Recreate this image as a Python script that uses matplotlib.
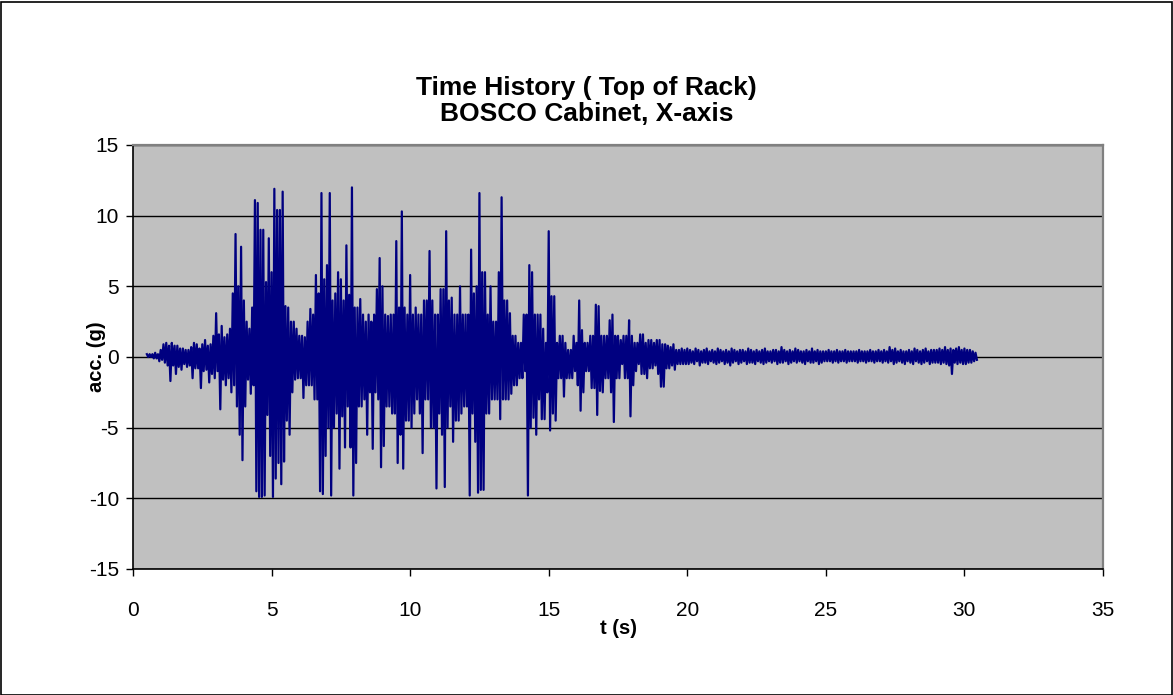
import numpy as np
import matplotlib
matplotlib.use("Agg")
import matplotlib.pyplot as plt
from matplotlib.patches import Rectangle

plt.rcParams['font.family'] = ['Liberation Sans', 'DejaVu Sans']

# Record read from the picture as the upper / lower extreme of the trace
# in consecutive 0.1 s windows starting at t = 0.5 s.
t_start = 0.5
t_win = 0.1

# windows 0.5 - 5.4 s
max_a = [0.2, 0.2, 0.2, 0.3, 0.2, 0.5, 0.9, 1.0, 0.8, 1.0,
         0.8, 0.8, 0.6, 0.6, 0.5, 0.5, 0.7, 1.0, 0.9, 0.6,
         0.9, 1.2, 0.8, 0.9, 1.5, 3.1, 1.6, 2.2, 1.4, 1.6,
         2.0, 4.5, 8.7, 5.0, 7.8, 4.0, 2.5, 2.0, 3.5, 11.1,
         10.9, 9.0, 9.0, 5.3, 8.4, 6.0, 11.9, 10.4, 10.4, 11.7]
min_a = [0.0, 0.0, -0.1, -0.1, -0.3, -0.2, -0.4, -0.6, -1.7, -0.6,
         -1.2, -0.7, -0.9, -0.5, -0.7, -0.6, -1.5, -0.8, -0.8, -2.2,
         -1.0, -0.9, -1.8, -1.2, -1.5, -1.0, -3.7, -1.6, -2.0, -1.5,
         -2.5, -2.0, -3.5, -5.5, -7.3, -3.5, -1.6, -2.6, -2.0, -9.5,
         -9.9, -9.9, -9.8, -4.1, -7.0, -9.9, -8.6, -7.5, -9.0, -7.4]
# windows 5.5 - 10.4 s
max_b = [3.6, 3.5, 2.5, 2.5, 2.0, 1.5, 1.5, 1.4, 2.5, 3.4,
         3.0, 5.8, 4.5, 11.6, 5.5, 6.5, 11.6, 4.0, 4.5, 6.0,
         5.5, 4.0, 7.9, 4.4, 12.0, 3.5, 3.5, 4.1, 3.0, 2.5,
         3.0, 2.5, 3.0, 4.8, 7.0, 5.0, 3.0, 2.9, 3.0, 3.0,
         8.2, 3.5, 10.3, 3.5, 3.0, 5.8, 3.0, 3.5, 3.0, 3.0]
min_b = [-4.5, -5.5, -2.5, -1.6, -1.5, -1.5, -2.9, -2.0, -2.0, -2.0,
         -3.0, -3.0, -9.5, -9.7, -7.0, -5.0, -9.8, -5.0, -4.0, -7.9,
         -4.2, -6.4, -3.5, -6.4, -9.8, -7.5, -3.5, -3.5, -3.0, -5.5,
         -2.5, -6.5, -2.5, -3.0, -7.8, -6.3, -3.5, -3.5, -4.0, -4.0,
         -7.5, -5.5, -7.9, -4.5, -4.5, -5.0, -4.0, -3.0, -4.0, -6.8]
# windows 10.5 - 15.4 s
max_c = [4.0, 4.0, 7.5, 4.0, 3.0, 3.0, 4.8, 4.8, 8.9, 4.0,
         4.2, 3.0, 3.0, 5.0, 3.0, 3.0, 3.0, 7.6, 4.5, 5.0,
         11.6, 6.0, 6.0, 3.0, 5.0, 2.5, 2.5, 6.0, 11.3, 4.0,
         4.0, 3.1, 1.5, 1.5, 1.0, 1.0, 3.0, 3.0, 6.5, 6.0,
         3.0, 3.0, 3.0, 2.0, 1.0, 8.9, 4.3, 4.3, 1.0, 1.5]
min_c = [-3.0, -3.0, -5.0, -5.0, -9.3, -4.0, -5.5, -9.2, -5.0, -3.5,
         -6.0, -4.5, -4.5, -4.0, -3.5, -3.5, -9.8, -4.0, -6.0, -9.6,
         -9.4, -9.4, -4.0, -4.0, -3.0, -3.0, -3.0, -4.4, -3.0, -3.0,
         -3.0, -2.6, -2.0, -2.0, -1.5, -1.5, -1.0, -9.8, -5.0, -4.3,
         -5.5, -3.0, -4.4, -4.4, -2.5, -5.2, -4.0, -4.5, -1.5, -1.5]
# windows 15.5 - 19.9 s
max_d = [1.5, 1.0, 0.5, 0.5, 1.5, 1.0, 4.0, 1.9, 1.0, 1.0,
         1.5, 1.5, 3.7, 3.6, 1.5, 1.5, 1.5, 2.6, 3.0, 1.5,
         1.5, 1.2, 1.5, 1.5, 2.6, 1.5, 1.0, 1.0, 1.6, 1.6,
         1.0, 1.2, 1.2, 1.0, 1.2, 1.2, 0.9, 0.9, 0.8, 0.7,
         0.9, 0.5, 0.5, 0.6, 0.5]
min_d = [-2.8, -1.5, -1.5, -1.5, -1.0, -2.0, -3.8, -2.5, -1.0, -1.0,
         -2.2, -2.2, -4.1, -2.4, -2.5, -1.5, -1.5, -2.5, -4.6, -1.5,
         -1.5, -0.5, -1.5, -1.5, -4.2, -2.0, -1.0, -0.5, -1.2, -1.2,
         -1.5, -0.8, -0.8, -0.6, -1.2, -2.1, -2.1, -0.8, -0.8, -0.6,
         -0.9, -0.5, -0.5, -0.5, -0.5]
# windows 20.0 - 30.4 s
max_e = [0.6, 0.5, 0.4, 0.6, 0.5, 0.4, 0.5, 0.6, 0.4, 0.5,
         0.4, 0.6, 0.5, 0.4, 0.5, 0.4, 0.6, 0.5, 0.4, 0.5,
         0.5, 0.4, 0.6, 0.5, 0.4, 0.5, 0.4, 0.5, 0.6, 0.4,
         0.4, 0.5, 0.5, 0.4, 0.7, 0.5, 0.4, 0.5, 0.4, 0.6,
         0.5, 0.4, 0.4, 0.5, 0.4, 0.6, 0.4, 0.5, 0.4, 0.4,
         0.4, 0.5, 0.4, 0.4, 0.5, 0.4, 0.4, 0.5, 0.4, 0.4,
         0.4, 0.4, 0.5, 0.4, 0.4, 0.4, 0.5, 0.4, 0.4, 0.5,
         0.4, 0.5, 0.4, 0.7, 0.5, 0.6, 0.4, 0.5, 0.4, 0.4,
         0.5, 0.4, 0.6, 0.5, 0.4, 0.5, 0.6, 0.4, 0.5, 0.5,
         0.5, 0.6, 0.5, 0.7, 0.5, 0.6, 0.5, 0.6, 0.7, 0.5,
         0.6, 0.5, 0.5, 0.4, 0.3]
min_e = [-0.5, -0.4, -0.5, -0.3, -0.6, -0.4, -0.4, -0.5, -0.3, -0.4,
         -0.5, -0.4, -0.3, -0.5, -0.4, -0.6, -0.4, -0.3, -0.5, -0.4,
         -0.3, -0.5, -0.4, -0.4, -0.5, -0.3, -0.4, -0.5, -0.4, -0.3,
         -0.4, -0.3, -0.5, -0.4, -0.4, -0.3, -0.5, -0.4, -0.3, -0.4,
         -0.3, -0.4, -0.5, -0.3, -0.4, -0.4, -0.3, -0.5, -0.4, -0.3,
         -0.3, -0.3, -0.4, -0.3, -0.4, -0.3, -0.3, -0.4, -0.3, -0.3,
         -0.3, -0.4, -0.3, -0.3, -0.4, -0.3, -0.3, -0.4, -0.3, -0.3,
         -0.4, -0.3, -0.4, -0.3, -0.5, -0.4, -0.3, -0.4, -0.5, -0.3,
         -0.4, -0.5, -0.3, -0.4, -0.5, -0.4, -0.3, -0.5, -0.4, -0.4,
         -0.4, -0.5, -0.4, -0.5, -0.6, -1.2, -0.4, -0.5, -0.4, -0.5,
         -0.5, -0.4, -0.4, -0.3, -0.2]

acc_max = np.array(max_a + max_b + max_c + max_d + max_e)
acc_min = np.array(min_a + min_b + min_c + min_d + min_e)
t_max = t_start + t_win * np.arange(len(acc_max))
t_min = t_max + t_win / 2
t = np.column_stack([t_max, t_min]).ravel()
acc = np.column_stack([acc_max, acc_min]).ravel()

title_1 = "Time History ( Top of Rack)"
title_2 = "BOSCO Cabinet, X-axis"
xlabel = "t (s)"
ylabel = "acc. (g)"
xticks = [0, 5, 10, 15, 20, 25, 30, 35]
yticks = [-15, -10, -5, 0, 5, 10, 15]

W, H = 1173, 695
fig = plt.figure(figsize=(W / 100, H / 100), dpi=100)
fig.patch.set_facecolor('white')
ax = fig.add_axes([133 / W, 1 - 569 / H, (1103 - 133) / W, (569 - 145) / H])
ax.set_facecolor('#C0C0C0')

ax.plot(t, acc, color='#000080', linewidth=1.6, zorder=3)

ax.set_xlim(0, 35)
ax.set_ylim(-15, 15)
ax.set_xticks(xticks)
ax.set_yticks(yticks)
ax.set_xticklabels([str(v) for v in xticks])
ax.set_yticklabels([str(v) for v in yticks])
ax.yaxis.grid(True, color='black', linewidth=1.0, zorder=1)
ax.set_axisbelow(True)
ax.tick_params(axis='both', direction='out', length=5, width=1, color='black',
               labelsize=15)
ax.tick_params(axis='x', pad=18)
ax.tick_params(axis='y', pad=5)
for s in ['left', 'bottom']:
    ax.spines[s].set_color('black')
    ax.spines[s].set_linewidth(1.2)
for s in ['top', 'right']:
    ax.spines[s].set_color('#808080')
    ax.spines[s].set_linewidth(1.6)

ax.set_xlabel(xlabel, fontsize=14.5, fontweight='bold')
ax.set_ylabel(ylabel, fontsize=14.5, fontweight='bold')
ax.xaxis.set_label_coords(0.5, -(629 - 569) / 424)
ax.xaxis.label.set_va('center')
ax.yaxis.set_label_coords(-(133 - 96) / 970, 0.5)
ax.yaxis.label.set_va('center')

fig.text(0.5, 1 - 88 / H, title_1, ha='center', va='center', fontsize=19,
         fontweight='bold')
fig.text(0.5, 1 - 114 / H, title_2, ha='center', va='center', fontsize=19,
         fontweight='bold')

fig.patches.append(Rectangle((0.5 / W, 0.5 / H), 1 - 2 / W, 1 - 2 / H,
                             transform=fig.transFigure, fill=False,
                             edgecolor='black', linewidth=1.2))

fig.savefig('out.png', dpi=100)
